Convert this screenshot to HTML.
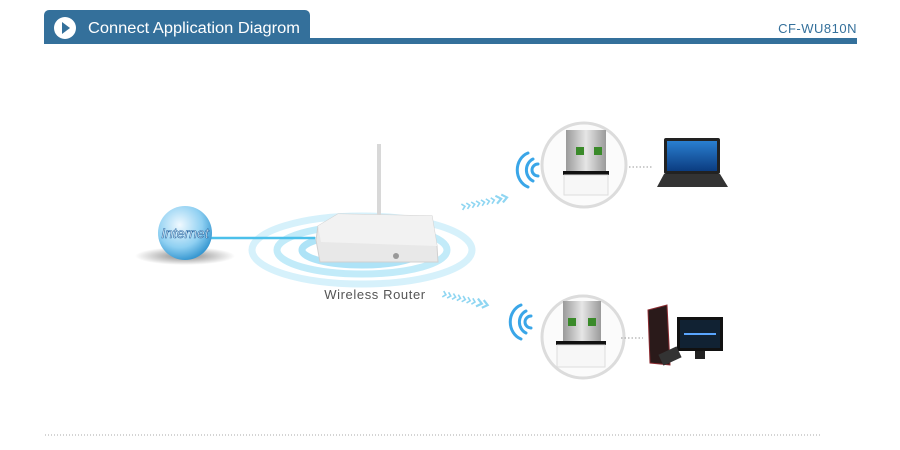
<!DOCTYPE html>
<html><head><meta charset="utf-8"><style>
body{margin:0;background:#fff;width:900px;height:445px;overflow:hidden;font-family:"Liberation Sans",sans-serif}
</style></head><body>
<svg width="900" height="445" viewBox="0 0 900 445" xmlns="http://www.w3.org/2000/svg">
<defs>
<radialGradient id="g" cx="0.4" cy="0.35" r="0.7"><stop offset="0" stop-color="#f0f9ff"/><stop offset="0.6" stop-color="#8fd0f2"/><stop offset="1" stop-color="#2a8fcc"/></radialGradient>
<linearGradient id="usb" x1="0" x2="1"><stop offset="0" stop-color="#9a9a9a"/><stop offset="0.5" stop-color="#e6e6e6"/><stop offset="1" stop-color="#9a9a9a"/></linearGradient>
<linearGradient id="scr" x1="0" y1="0" x2="0" y2="1"><stop offset="0" stop-color="#2a7fd0"/><stop offset="1" stop-color="#0b3c80"/></linearGradient>
<radialGradient id="sh"><stop offset="0" stop-color="#333" stop-opacity="0.6"/><stop offset="1" stop-color="#333" stop-opacity="0"/></radialGradient>
<g id="chev"><path d="M0 -3 L3 0 L0 3" fill="none" stroke="#8fd6f2" stroke-width="1.6"/></g>
</defs>
<rect x="44" y="10" width="266" height="34" rx="5" fill="#34709b"/>
<rect x="44" y="38" width="813" height="6" fill="#34709b"/>
<circle cx="65" cy="28" r="11" fill="#fff"/>
<path d="M62 22 L70 28 L62 34 Z" fill="#34709b"/>
<text x="88" y="33" font-size="15.5" fill="#fff" textLength="212" lengthAdjust="spacingAndGlyphs">Connect Application Diagrom</text>
<text x="857" y="33" font-size="13" fill="#34709b" text-anchor="end" letter-spacing="0.5">CF-WU810N</text>
<g fill="none">
<ellipse cx="362" cy="250" rx="110" ry="34" stroke-width="7" stroke="#d6f1fb"/>
<ellipse cx="362" cy="250" rx="85" ry="24" stroke-width="7" stroke="#c2ebf9"/>
<ellipse cx="362" cy="250" rx="60" ry="15" stroke-width="7" stroke="#aee3f7"/>
</g>
<line x1="210" y1="238" x2="315" y2="238" stroke="#4cc0ea" stroke-width="2.5"/>
<ellipse cx="185" cy="256" rx="50" ry="9" fill="url(#sh)"/>
<circle cx="185" cy="233" r="27" fill="url(#g)"/>
<text x="185" y="238" font-size="14" font-style="italic" fill="#fff" text-anchor="middle" stroke="#2a6aa5" stroke-width="0.6">Internet</text>
<line x1="379" y1="144" x2="379" y2="222" stroke="#d8d8d8" stroke-width="4"/>
<path d="M318 226 L338 214 L432 216 L437 246 L438 262 L320 262 L316 240 Z" fill="#e8e8e8" stroke="#d0d0d0"/>
<path d="M318 226 L338 214 L432 216 L437 246 L321 242 Z" fill="#f2f2f2"/>
<circle cx="396" cy="256" r="3" fill="#999"/>
<text x="375" y="299" font-size="13" fill="#555" text-anchor="middle" letter-spacing="0.6">Wireless Router</text>
<!-- arrows -->
<g transform="translate(462 207) rotate(-12)">
<use href="#chev" x="0"/><use href="#chev" x="5"/><use href="#chev" x="10"/><use href="#chev" x="15"/><use href="#chev" x="20"/><use href="#chev" x="25"/><use href="#chev" x="30"/>
<path d="M35 -4 L40 0 L35 4 M41 -4 L46 0 L41 4" fill="none" stroke="#8fd6f2" stroke-width="2.2"/>
</g>
<g transform="translate(443 294) rotate(14)">
<use href="#chev" x="0"/><use href="#chev" x="5"/><use href="#chev" x="10"/><use href="#chev" x="15"/><use href="#chev" x="20"/><use href="#chev" x="25"/><use href="#chev" x="30"/>
<path d="M35 -4 L40 0 L35 4 M41 -4 L46 0 L41 4" fill="none" stroke="#8fd6f2" stroke-width="2.2"/>
</g>
<g>
<circle cx="584" cy="165" r="42" fill="#fbfbfb" stroke="#dcdcdc" stroke-width="3"/>
<rect x="566" y="130" width="40" height="41" fill="url(#usb)"/>
<rect x="576" y="147" width="8" height="8" fill="#3a8a2a"/><rect x="594" y="147" width="8" height="8" fill="#3a8a2a"/>
<rect x="563" y="171" width="46" height="4" fill="#111"/>
<rect x="564" y="175" width="44" height="20" fill="#f7f7f7" stroke="#ddd"/>
</g>
<g>
<circle cx="583" cy="337" r="41" fill="#fbfbfb" stroke="#dcdcdc" stroke-width="3"/>
<rect x="563" y="301" width="38" height="41" fill="url(#usb)"/>
<rect x="568" y="318" width="8" height="8" fill="#3a8a2a"/><rect x="588" y="318" width="8" height="8" fill="#3a8a2a"/>
<rect x="556" y="341" width="50" height="4" fill="#111"/>
<rect x="557" y="345" width="48" height="22" fill="#f7f7f7" stroke="#ddd"/>
</g>
<g fill="none" stroke="#3aa6e8" stroke-width="3" stroke-linecap="round">
<path d="M528 153 a16 18 0 0 0 0 34"/><path d="M533 159 a11 12 0 0 0 0 22"/><path d="M538 164 a6 6 0 0 0 0 12"/>
<path d="M521 305 a16 18 0 0 0 0 34"/><path d="M526 311 a11 12 0 0 0 0 22"/><path d="M531 316 a6 6 0 0 0 0 12"/>
</g>
<line x1="629" y1="167" x2="652" y2="167" stroke="#999" stroke-dasharray="1.5 2"/>
<line x1="621" y1="338" x2="643" y2="338" stroke="#999" stroke-dasharray="1.5 2"/>
<rect x="664" y="138" width="56" height="36" rx="2" fill="#222"/>
<rect x="667" y="141" width="50" height="30" fill="url(#scr)"/>
<path d="M664 174 L720 174 L728 187 L657 187 Z" fill="#333"/>
<path d="M648 310 L667 305 L670 365 L650 363 Z" fill="#2a1a1a" stroke="#8a2a30"/>
<rect x="677" y="317" width="46" height="34" fill="#111"/>
<rect x="680" y="320" width="40" height="28" fill="#123"/>
<line x1="684" y1="334" x2="716" y2="334" stroke="#5aa6ff" stroke-width="2"/>
<rect x="695" y="351" width="10" height="8" fill="#222"/>
<rect x="660" y="350" width="20" height="12" fill="#333" transform="rotate(-25 670 356)"/>
<line x1="45" y1="435" x2="822" y2="435" stroke="#aaa" stroke-dasharray="1 2"/>
</svg>
</body></html>
